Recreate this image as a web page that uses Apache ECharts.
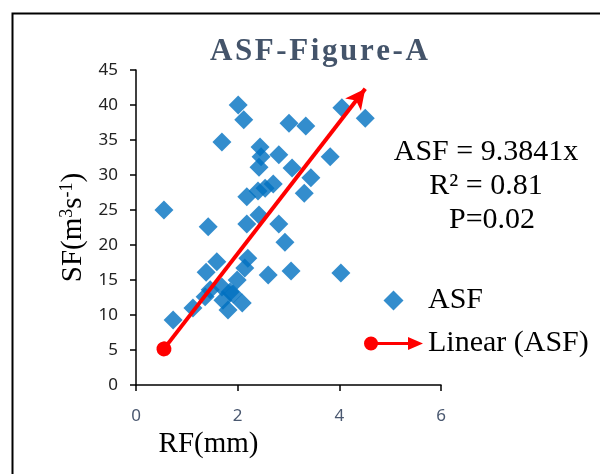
<!DOCTYPE html>
<html>
<head>
<meta charset="utf-8">
<script src="https://cdn.jsdelivr.net/npm/echarts@6/dist/echarts.min.js"></script>
<style>html,body{margin:0;padding:0;background:#fff;}#c{width:600px;height:474px;}</style>
</head>
<body>
<div id="c"></div>
<script>
// RF (mm) values of the ASF points
const rfValues = [2.01,2.12,1.69,2.44,2.46,2.42,2.81,3.01,3.34,4.05,4.51,3.82,3.07,3.44,3.31,2.18,2.40,2.54,2.70,0.55,1.42,2.18,2.42,2.81,2.93,2.60,3.05,4.03,1.59,1.38,2.20,2.14,1.99,1.46,1.36,1.69,1.85,1.71,1.81,2.09,1.12,0.73,1.91];
// SF (m3 s-1) values of the ASF points
const sfValues = [40.0,37.9,34.7,34.0,32.6,31.1,32.9,37.4,37.0,39.6,38.1,32.6,31.0,29.6,27.4,26.9,27.7,28.1,28.7,25.0,22.6,23.0,24.3,23.0,20.4,15.7,16.3,16.0,17.6,16.1,18.1,16.7,15.0,13.6,12.6,14.0,13.3,12.1,10.7,11.7,11.0,9.3,13.0];
const slope = 9.3841;
const xTicks = [0, 2, 4, 6];
const yTicks = [0, 5, 10, 15, 20, 25, 30, 35, 40, 45];
const titleText = 'ASF-Figure-A';
const eqLines = ['ASF = 9.3841x', 'R² = 0.81', 'P=0.02'];

const points = rfValues.map((x, i) => [x, sfValues[i]]);
const xMin = Math.min(...rfValues), xMax = Math.max(...rfValues);

const serif = '"Liberation Serif", "Times New Roman", serif';
const chart = echarts.init(document.getElementById('c'));
const hs = '\u200A';
chart.setOption({
  animation: false,
  backgroundColor: '#ffffff',
  title: {
    text: titleText.split('').join(hs),
    left: 205, top: 31,
    textStyle: {fontFamily: serif, fontWeight: 'bold', fontSize: 31, color: '#44546A'}
  },
  grid: {left: 136, right: 159, top: 70, bottom: 89},
  xAxis: {
    type: 'value', min: xTicks[0], max: xTicks[xTicks.length-1], interval: 2,
    splitLine: {show: false},
    axisLine: {lineStyle: {color: '#000', width: 1.5}},
    axisTick: {lineStyle: {color: '#000', width: 1.5}, length: 6},
    axisLabel: {margin: 23, fontFamily: '"Noto Sans", sans-serif', fontSize: 17, color: '#4a5870'},
    name: 'RF(mm)', nameLocation: 'middle', nameGap: 40,
    nameTextStyle: {fontFamily: serif, fontSize: 29, color: '#000', padding: [0, 160, 0, 0]}
  },
  yAxis: {
    type: 'value', min: yTicks[0], max: yTicks[yTicks.length-1], interval: 5,
    splitLine: {show: false},
    axisLine: {show: true, lineStyle: {color: '#000', width: 1.5}},
    axisTick: {show: true, lineStyle: {color: '#000', width: 1.5}, length: 6},
    axisLabel: {margin: 18, fontFamily: '"Noto Sans", sans-serif', fontSize: 17, color: '#222'},
    name: 'SF(m{sup|3}s{sup|-1})', nameLocation: 'middle', nameGap: 38,
    nameTextStyle: {fontFamily: serif, fontSize: 29, color: '#000',
      rich: {sup: {fontFamily: serif, fontSize: 18, color: '#000', verticalAlign: 'top', padding: [0,0,12,0]}}}
  },
  legend: {
    orient: 'vertical', left: 359, top: 280,
    itemWidth: 59, itemHeight: 20, itemGap: 12,
    symbolKeepAspect: true,
    textStyle: {fontFamily: serif, fontSize: 30, color: '#000', lineHeight: 31},
    data: [
      {name: 'ASF', icon: 'path://M0,-1 L1,0 L0,1 L-1,0 Z', symbolKeepAspect: true},
      {name: 'Linear (ASF)', icon: 'path://M0,7 A7,7 0 1,1 14,7 A7,7 0 1,1 0,7 Z M12,5.5 L44,5.5 L44,0.5 L59,7 L44,13.5 L44,8.5 L12,8.5 Z'}
    ]
  },
  graphic: [
    {type: 'rect', left: 10, top: 11, shape: {width: 620, height: 500}, style: {fill: 'none', stroke: '#000', lineWidth: 2}, silent: true},
    ...eqLines.map((t, i) => ({type: 'text', x: i === 2 ? 492 : 486, y: 152 + i*34, style: {text: t, font: '30px ' + serif, fill: '#000', textAlign: 'center', textVerticalAlign: 'middle'}}))
  ],
  series: [
    {
      name: 'ASF', type: 'scatter', data: points,
      symbol: 'diamond', symbolSize: 19,
      itemStyle: {color: '#0070C0'}
    },
    {
      name: 'Linear (ASF)', type: 'line', data: [],
      itemStyle: {color: '#FF0000'}, lineStyle: {color: '#FF0000', width: 4},
      markLine: {
        silent: true, animation: false,
        symbol: ['circle', 'arrow'], symbolSize: [15, 20],
        label: {show: false},
        lineStyle: {color: '#FF0000', width: 4, type: 'solid'},
        data: [[{coord: [xMin, slope*xMin]}, {coord: [xMax, slope*xMax]}]]
      }
    }
  ]
});
</script>
</body>
</html>
